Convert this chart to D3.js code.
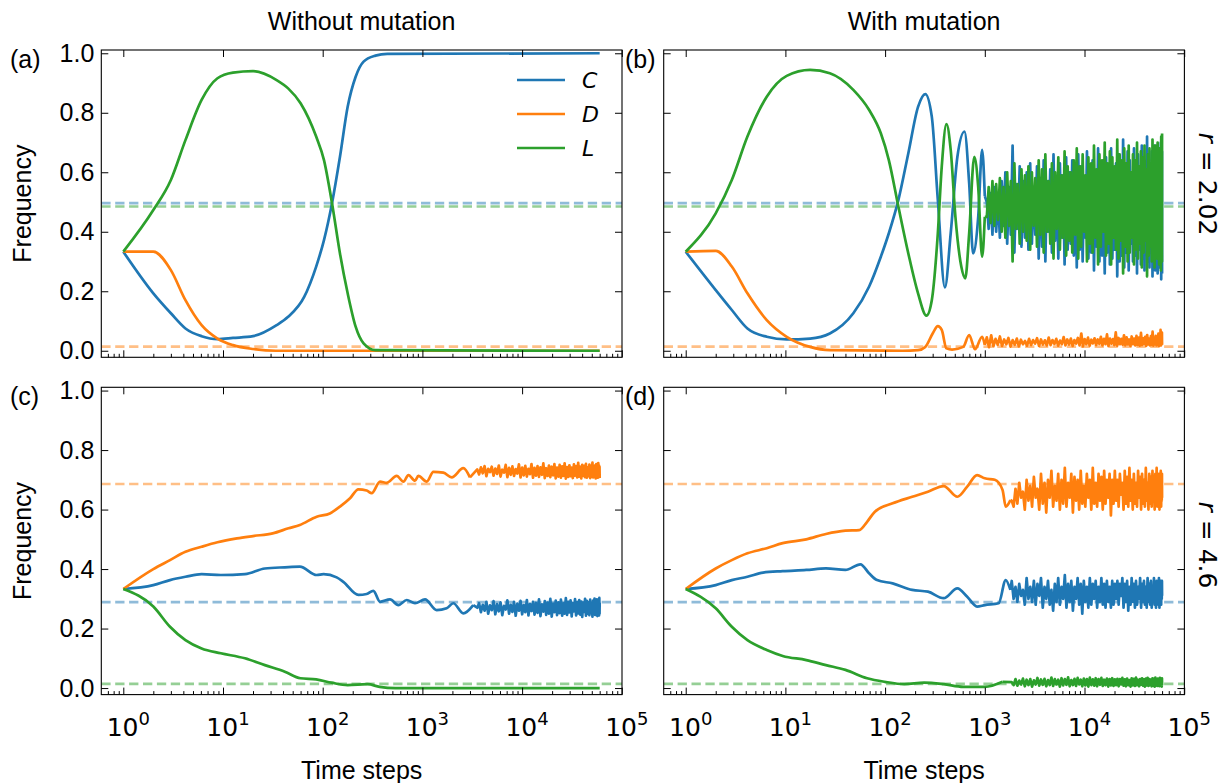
<!DOCTYPE html>
<html><head><meta charset="utf-8">
<script src="https://cdn.jsdelivr.net/npm/d3@7"></script>
<style>body{margin:0;background:#fff}svg{display:block}</style>
</head><body>
<svg id="c" width="1225" height="783"></svg>
<script>
// ---------- DATA ----------
const seriesNames = ["C","D","L"];
const colTitles = ["Without mutation","With mutation"];
const rowLabels = [["r"," = 2.02"],["r"," = 4.6"]];
const yTicks = [0,0.2,0.4,0.6,0.8,1.0];
const xMajor = [1,10,100,1000,10000,100000];
const xMinorBase = [2,3,4,5,6,7,8,9];
const xMinorDecades = [0.1,1,10,100,1000,10000];
// equilibrium (dashed) levels
const eqTop = {C:0.496, D:0.014, L:0.485};
const eqBot = {C:0.289, D:0.686, L:0.014};

// Panel (a) — without mutation, r = 2.02
const aC_t = [1,2,3,4.2,6.1,8.8,12.6,20,34.5,45,65,86,103,124,149,178,214,257,338,445,60000];
const aC_v = [.333,.193,.126,.075,.049,.039,.043,.049,.086,.114,.18,.283,.372,.496,.652,.82,.921,.972,.992,.998,1.0];
const aD_t = [1,2,3,4.2,6.1,8.8,12.6,20,34,60000];
const aD_v = [.333,.333,.271,.17,.086,.041,.019,.006,0,0];
const aL_t = [1,2,3,4.2,6.1,8.8,12.6,20,34.5,45,60,86,103,124,149,178,214,257,338,60000];
const aL_v = [.333,.473,.574,.708,.843,.916,.935,.94,.91,.882,.832,.72,.641,.496,.327,.193,.081,.025,.002,0];

// Panel (b) — with mutation, r = 2.02
const bC_t = [1,2,2.9,4.16,6.5,10.3,17.7,27.9,48,69,90.6,109,136,171,214,253,294,338,398,455,531,625,697,763,859,940,1000];
const bC_v = [.333,.204,.137,.075,.047,.038,.041,.058,.126,.215,.316,.395,.507,.664,.82,.863,.787,.507,.213,.395,.652,.737,.563,.327,.45,.675,.52];
const bD_t = [1,2,2.9,4.16,6.5,10.3,17.7,27.9,150,214,253,300,338,370,412,470,608,697,798,940,1000];
const bD_v = [.333,.336,.283,.193,.103,.047,.013,.002,0,.002,.013,.058,.083,.07,.008,.004,.013,.053,.005,.047,.02];
const bL_t = [1,2,2.9,4.16,6.5,10.3,17.7,27.9,48,69,90.6,109,136,171,214,260,294,338,370,412,455,507,581,637,697,784,859,940,1000];
const bL_v = [.333,.462,.574,.72,.854,.924,.944,.933,.877,.81,.731,.641,.484,.327,.193,.118,.17,.395,.619,.762,.675,.451,.283,.243,.395,.652,.55,.316,.45];
const bNoiseRange = [3.02, 4.778];
const bC_noise = [.50,.41,.53,.39,.55,.40,.52,.38,.57,.42,.60,.36,.55,.39,.69,.33,.56,.41,.62,.35,
  .57,.38,.60,.34,.63,.36,.55,.39,.62,.31,.58,.35,.64,.30,.57,.40,.61,.33,.66,.37,
  .56,.31,.63,.38,.59,.29,.65,.34,.60,.36,.64,.32,.58,.28,.66,.34,.62,.30,.57,.38,
  .67,.31,.61,.33,.64,.27,.59,.35,.68,.30,.62,.32,.57,.26,.65,.33,.61,.29,.68,.31,
  .59,.34,.63,.25,.66,.30,.60,.32,.71,.28,.62,.33,.67,.27,.64,.36,.59,.30,.68,.32,
  .63,.26,.66,.34,.61,.29,.69,.31,.64,.27,.60,.35,.72,.30,.65,.28,.62,.33,.67,.25,
  .63,.31,.69,.27,.61,.34,.66,.26,.64,.30,.68,.28,.62,.32,.70,.24,.65,.29,.67,.26];
const bD_noise = [.045,.012,.052,.015,.04,.02,.048,.016,.038,.022,.043,.014,.036,.02,.041,.015,.037,.022,.033,.017,
  .04,.019,.036,.024,.042,.016,.038,.021,.035,.018,.044,.019,.036,.023,.04,.017,.034,.022,.046,.018,
  .038,.021,.041,.016,.036,.024,.043,.018,.058,.015,.039,.022,.044,.017,.037,.025,.042,.019,.038,.023,
  .047,.018,.04,.022,.055,.016,.041,.024,.039,.019,.062,.017,.043,.022,.04,.02,.052,.018,.045,.021,
  .038,.016,.048,.022,.041,.018,.05,.02,.044,.017,.06,.019,.042,.023,.047,.016,.053,.021,.04,.018,
  .049,.02,.064,.017,.043,.022,.05,.018,.045,.02,.058,.016,.047,.021,.07,.018,.044,.022,.061,.02];
const bL_noise = [.45,.55,.43,.57,.42,.56,.44,.58,.40,.55,.38,.60,.42,.57,.30,.63,.41,.56,.36,.61,
  .40,.59,.37,.62,.34,.60,.42,.58,.35,.64,.39,.61,.33,.66,.40,.57,.36,.63,.31,.60,
  .41,.65,.34,.59,.38,.67,.32,.62,.37,.60,.33,.64,.39,.68,.31,.62,.35,.66,.40,.59,
  .30,.65,.36,.63,.33,.69,.38,.61,.29,.66,.35,.64,.40,.70,.32,.63,.36,.67,.29,.65,
  .38,.62,.34,.71,.31,.66,.37,.64,.26,.68,.35,.63,.30,.69,.33,.60,.38,.66,.29,.64,
  .34,.70,.31,.62,.36,.67,.28,.65,.33,.69,.37,.61,.25,.66,.32,.68,.35,.63,.30,.71,
  .34,.65,.28,.69,.36,.62,.31,.70,.33,.66,.29,.68,.35,.64,.27,.72,.32,.67,.30,.73];

// Panel (c) — without mutation, r = 4.6
const cC_t = [1,2,2.94,4.2,6.1,9.5,16.6,26.3,41.7,59,87,102,138,161,228,276,322,376,473,574,697,843,1062,1390,1750,2042,2570,3236];
const cC_v = [.333,.346,.363,.374,.383,.38,.383,.402,.406,.408,.38,.383,.372,.357,.313,.316,.327,.29,.298,.279,.296,.285,.298,.262,.268,.285,.251,.279];
const cD_t = [1,2,2.94,4.2,6.1,8.8,13.8,20,31.5,45.4,59,87,118,149,188,228,276,310,376,438,552,645,724,843,910,1105,1288,1622,1968,2570,3000];
const cD_v = [.333,.40,.43,.458,.475,.49,.503,.511,.52,.537,.548,.576,.587,.61,.638,.668,.664,.655,.694,.69,.713,.694,.716,.697,.713,.694,.727,.724,.708,.739,.708];
const cL_t = [1,2,2.94,4.2,6.1,9.5,16.6,26.3,41.7,59.7,86,123,178,282,372,537,60000];
const cL_v = [.333,.274,.206,.161,.133,.117,.10,.077,.055,.033,.029,.018,.01,.013,.004,0,0];
const cNoiseRange = [3.55, 4.778];
const cC_noise = [.27,.285,.255,.28,.26,.29,.25,.278,.262,.292,.248,.282,.258,.288,.245,.276,.264,.295,.25,.28,
  .256,.29,.243,.284,.26,.293,.248,.279,.255,.296,.244,.283,.259,.29,.247,.286,.253,.298,.242,.281,
  .257,.292,.246,.287,.25,.30,.24,.284,.255,.294,.245,.288,.252,.297,.243,.285,.25,.302,.246,.29,
  .254,.295,.241,.286,.258,.299,.244,.289,.251,.296,.247,.291,.239,.287,.256,.3,.243,.293,.25,.288,
  .245,.297,.252,.285,.24,.294,.255,.301,.246,.289,.249,.298,.242,.29,.257,.295,.244,.303,.25,.287];
const cD_noise = [.735,.718,.742,.722,.746,.712,.737,.726,.744,.714,.738,.72,.748,.711,.734,.724,.75,.709,.74,.717,
  .745,.713,.736,.721,.752,.708,.741,.715,.747,.711,.737,.719,.753,.707,.74,.714,.746,.71,.742,.717,
  .755,.706,.739,.713,.748,.709,.744,.715,.753,.705,.741,.711,.75,.707,.745,.713,.755,.704,.743,.71,
  .749,.712,.741,.706,.752,.714,.746,.708,.757,.711,.744,.705,.75,.713,.747,.709,.754,.707,.742,.712,
  .751,.706,.746,.71,.758,.708,.743,.713,.749,.705,.753,.711,.745,.707,.756,.709,.748,.712,.744,.706];

// Panel (d) — with mutation, r = 4.6
const dC_t = [1,2,2.9,4.16,5.97,9.4,16.2,25.5,40,56.6,69,83,119,187,269,387,531,666,836,1000,1377,1622,1807];
const dC_v = [.333,.346,.363,.374,.388,.393,.397,.402,.397,.416,.386,.363,.352,.33,.324,.302,.335,.307,.274,.279,.285,.363,.33];
const dD_t = [1,2,2.9,4.16,6.5,9.4,16.2,25.5,40,55,66,79,119,187,269,387,531,666,836,1000,1259,1507,1622,1807];
const dD_v = [.333,.402,.43,.453,.47,.487,.50,.518,.529,.531,.559,.593,.621,.643,.66,.679,.643,.677,.716,.705,.70,.666,.61,.632];
const dL_t = [1,2,2.9,4.16,6.5,9.4,16.2,25.5,40,66,99,156,246,387,608,1000,1507];
const dL_v = [.333,.268,.206,.161,.128,.108,.094,.077,.061,.033,.021,.013,.018,.013,.004,.004,.021];
const dNoiseRange = [3.27, 4.778];
const dC_noise = [.36,.30,.34,.29,.35,.31,.33,.28,.37,.30,.34,.29,.36,.28,.35,.31,.37,.27,.34,.30,
  .36,.28,.33,.26,.35,.29,.37,.28,.34,.30,.38,.27,.35,.29,.36,.26,.34,.30,.37,.28,
  .35,.25,.36,.29,.34,.27,.37,.28,.35,.30,.36,.27,.34,.29,.37,.28,.35,.27,.36,.29,
  .34,.27,.36,.28,.35,.30,.36,.28,.35,.31,.37,.27,.35,.29,.36,.26,.34,.28,.37,.29,
  .35,.27,.36,.28,.34,.30,.37,.27,.35,.29,.36,.28,.34,.27,.37,.29,.35,.28,.36,.27,
  .34,.29,.37,.28,.35,.27,.36,.30,.34,.28,.37,.27,.35,.29,.36,.28,.34,.30,.36,.31];
const dD_noise = [.63,.61,.67,.62,.69,.64,.66,.60,.70,.63,.68,.61,.71,.64,.67,.60,.72,.62,.69,.59,
  .70,.64,.73,.61,.68,.63,.72,.60,.70,.62,.74,.61,.69,.64,.72,.59,.71,.63,.70,.60,
  .73,.62,.68,.61,.72,.64,.70,.60,.74,.62,.69,.61,.72,.63,.71,.60,.73,.62,.70,.64,
  .72,.58,.70,.62,.73,.63,.70,.61,.72,.65,.69,.60,.73,.62,.71,.61,.74,.63,.70,.60,
  .72,.62,.69,.61,.73,.64,.71,.60,.72,.62,.70,.61,.74,.63,.69,.60,.72,.62,.71,.61,
  .73,.63,.70,.60,.72,.62,.74,.61,.70,.63,.72,.60,.71,.62,.73,.61,.70,.63,.72,.64];
const dL_noise = [.02,.01,.03,.008,.025,.012,.032,.006,.028,.01,.03,.005,.026,.012,.034,.008,.029,.011,.031,.006,
  .027,.01,.035,.007,.03,.012,.028,.005,.033,.009,.03,.011,.036,.006,.027,.01,.031,.007,.034,.012,
  .028,.006,.032,.009,.03,.005,.035,.01,.029,.008,.033,.006,.03,.011,.034,.007,.028,.01,.032,.005,
  .03,.009,.033,.007,.029,.01,.031,.006,.03,.012,.034,.008,.029,.006,.032,.01,.027,.005,.033,.009,
  .031,.007,.035,.01,.028,.006,.03,.011,.033,.008,.029,.005,.032,.009,.034,.007,.03,.01,.028,.006,
  .033,.008,.031,.005,.035,.009,.029,.007,.032,.01,.03,.006,.034,.008,.028,.01,.031,.005,.033,.009];

// ---------- BUILD ----------
const colors = {C:"#1f77b4", D:"#ff7f0e", L:"#2ca02c"};
function zip(ts, vs){ return ts.map((t,i)=>[t, vs[i]]); }
function noisePts(head, range, vals){
  if (!vals) return null;
  const n = vals.length, out = [head[head.length-1]];
  vals.forEach((v,i)=>{
    const u = 1 - Math.pow(1 - i/(n-1), 1.5);   // sample positions denser toward late times
    out.push([Math.pow(10, range[0] + (range[1]-range[0])*u), v]);
  });
  return out;
}
const panels = [
  {lab:"(a)", col:0, row:0, eq:eqTop, legend:true,
    head:{C:zip(aC_t,aC_v), D:zip(aD_t,aD_v), L:zip(aL_t,aL_v)}, noise:{}},
  {lab:"(b)", col:1, row:0, eq:eqTop,
    head:{C:zip(bC_t,bC_v), D:zip(bD_t,bD_v), L:zip(bL_t,bL_v)},
    range:bNoiseRange, noise:{C:bC_noise, D:bD_noise, L:bL_noise}},
  {lab:"(c)", col:0, row:1, eq:eqBot,
    head:{C:zip(cC_t,cC_v), D:zip(cD_t,cD_v), L:zip(cL_t,cL_v)},
    range:cNoiseRange, noise:{C:cC_noise, D:cD_noise}},
  {lab:"(d)", col:1, row:1, eq:eqBot,
    head:{C:zip(dC_t,dC_v), D:zip(dD_t,dD_v), L:zip(dL_t,dL_v)},
    range:dNoiseRange, noise:{C:dC_noise, D:dD_noise, L:dL_noise}}
];

const svg = d3.select("#c");
const colX = [101.3, 663.7], pw = 520.7;
const rowY = [50, 387.3], ph = 307.3;
const SANS = "'Liberation Sans', Arial, sans-serif";
const MATH = "'DejaVu Sans', sans-serif";
const LW = 2.7;
const xMinor = [];
xMinorDecades.forEach(d=>xMinorBase.forEach(b=>xMinor.push(b*d)));

panels.forEach(p=>{
  const x0 = colX[p.col], y0 = rowY[p.row];
  const x = d3.scaleLog().domain([Math.pow(10,-0.2207), Math.pow(10,5.002)]).range([x0, x0+pw]);
  const y = d3.scaleLinear().domain([-0.022, 1.011]).range([y0+ph, y0]);
  const g = svg.append("g");
  const clipId = "clip"+p.lab.replace(/\W/g,"");
  svg.append("clipPath").attr("id",clipId).append("rect")
    .attr("x",x0).attr("y",y0).attr("width",pw).attr("height",ph);
  const plot = g.append("g").attr("clip-path",`url(#${clipId})`);
  seriesNames.forEach(s=>{
    plot.append("line").attr("x1",x0).attr("x2",x0+pw)
      .attr("y1",y(p.eq[s])).attr("y2",y(p.eq[s]))
      .attr("stroke",colors[s]).attr("stroke-opacity",0.5)
      .attr("stroke-width",2.7).attr("stroke-dasharray","9.3,4.6");
  });
  const smooth = d3.line().x(d=>x(d[0])).y(d=>y(d[1])).curve(d3.curveMonotoneX);
  const jag = d3.line().x(d=>x(d[0])).y(d=>y(d[1]));
  seriesNames.forEach(s=>{
    const sg = plot.append("g");
    sg.append("path").datum(p.head[s]).attr("d",smooth)
      .attr("fill","none").attr("stroke",colors[s]).attr("stroke-width",LW)
      .attr("stroke-linejoin","round");
    const np = noisePts(p.head[s], p.range, p.noise[s]);
    if (np) sg.append("path").datum(np).attr("d",jag)
      .attr("fill","none").attr("stroke",colors[s]).attr("stroke-width",LW)
      .attr("stroke-linejoin","round");
  });
  const mk = (ax)=>ax.tickSizeOuter(0);
  const bottom = g.append("g").attr("transform",`translate(0,${y0+ph})`);
  bottom.call(mk(d3.axisBottom(x).tickValues(xMajor).tickSize(-7).tickFormat("")));
  bottom.append("g").call(mk(d3.axisBottom(x).tickValues(xMinor.filter(v=>v>x.domain()[0]&&v<x.domain()[1])).tickSize(-3.5).tickFormat("")));
  const top = g.append("g").attr("transform",`translate(0,${y0})`);
  top.call(mk(d3.axisTop(x).tickValues(xMajor).tickSize(-7).tickFormat("")));
  const left = g.append("g").attr("transform",`translate(${x0},0)`);
  left.call(mk(d3.axisLeft(y).tickValues(yTicks).tickSize(-7).tickPadding(7)
    .tickFormat(p.col===0 ? d3.format(".1f") : "")));
  const right = g.append("g").attr("transform",`translate(${x0+pw},0)`);
  right.call(mk(d3.axisRight(y).tickValues(yTicks).tickSize(-7).tickFormat("")));
  g.selectAll(".domain").remove();
  g.selectAll(".tick line").attr("stroke","#000").attr("stroke-width",1);
  left.selectAll("text").attr("font-family",SANS).attr("font-size",25).attr("fill","#000");
  g.append("rect").attr("x",x0).attr("y",y0).attr("width",pw).attr("height",ph)
    .attr("fill","none").attr("stroke","#000").attr("stroke-width",1.1);
  if (p.row===1){
    xMajor.forEach(v=>{
      const t = g.append("text").attr("x",x(v)+5).attr("y",y0+ph+41)
        .attr("text-anchor","middle").attr("font-family",MATH).attr("font-size",25);
      t.append("tspan").text("10");
      t.append("tspan").attr("dy",-11).attr("font-size",18).text(String(Math.round(Math.log10(v))));
    });
    g.append("text").attr("x",x0+pw/2).attr("y",y0+ph+84).attr("text-anchor","middle")
      .attr("font-family",SANS).attr("font-size",25).text("Time steps");
  }
  if (p.col===0){
    g.append("text").attr("transform",`translate(31,${y0+ph/2}) rotate(-90)`)
      .attr("text-anchor","middle").attr("font-family",SANS).attr("font-size",25).text("Frequency");
  }
  if (p.row===0){
    g.append("text").attr("x",x0+pw/2).attr("y",30).attr("text-anchor","middle")
      .attr("font-family",SANS).attr("font-size",25).text(colTitles[p.col]);
  }
  if (p.col===1){
    const cy = p.row===0 ? 184 : 545;
    const t = g.append("text").attr("transform",`translate(1199,${cy}) rotate(90)`)
      .attr("text-anchor","middle").attr("font-family",MATH).attr("font-size",25);
    t.append("tspan").attr("font-style","italic").text(rowLabels[p.row][0]);
    t.append("tspan").text(rowLabels[p.row][1]);
  }
  g.append("text").attr("x", p.col===0 ? 10 : 625).attr("y", y0+18)
    .attr("font-family",SANS).attr("font-size",25).text(p.lab);
  if (p.legend){
    seriesNames.forEach((s,i)=>{
      const ly = 80 + i*34;
      g.append("line").attr("x1",517).attr("x2",565).attr("y1",ly).attr("y2",ly)
        .attr("stroke",colors[s]).attr("stroke-width",LW);
      g.append("text").attr("x",582).attr("y",ly+8).attr("font-family",MATH)
        .attr("font-style","italic").attr("font-size",22).text(s);
    });
  }
});
</script>
</body></html>
